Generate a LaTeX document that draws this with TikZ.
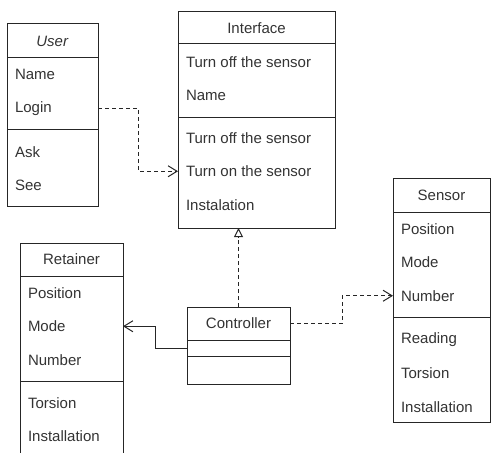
\documentclass[tikz,border=0pt]{standalone}
\usepackage{fontspec}
\setmainfont{Liberation Sans}
\usetikzlibrary{arrows.meta,positioning,calc}

\begin{document}
\begin{tikzpicture}[
  x=1pt, y=-1pt,
  font=\fontsize{15}{18}\selectfont,
  part/.style={draw=black!85, line width=1pt, outer sep=0pt, inner sep=0pt, anchor=north west, text=black!80},
  row/.style={anchor=north west, minimum height=33.5pt, inner sep=0pt, outer sep=0pt, text=black!80},
  link/.style={draw=black!85, line width=1pt},
  dep/.style={link, dash pattern=on 4pt off 3pt, -{Straight Barb[length=9pt,width=11pt]}},
  real/.style={link, dash pattern=on 4pt off 3pt, -{Triangle[open,length=9pt,width=9pt]}},
  assoc/.style={link, -{Straight Barb[length=9pt,width=11pt]}}
]
  \useasboundingbox (0,0) rectangle (492,452);

  % User
  \node[part, minimum width=91pt, minimum height=34pt] (user) at (7,24) {\textit{User}};
  \node[part, minimum width=91pt, minimum height=71pt, below=0pt of user] (user-attr) {};
  \node[part, minimum width=91pt, minimum height=77pt, below=0pt of user-attr] (user-ops) {};
  \foreach \t [count=\i] in {Name,Login}
    \node[row] (user-a\i) at ($(user-attr.north west)+(8,{33.5*(\i-1)})$) {\t};
  \foreach \t [count=\i] in {Ask,See}
    \node[row] (user-o\i) at ($(user-ops.north west)+(8,{6+33.5*(\i-1)})$) {\t};

  % Interface
  \node[part, minimum width=157pt, minimum height=32pt] (iface) at (178,12) {Interface};
  \node[part, minimum width=157pt, minimum height=73pt, below=0pt of iface] (iface-attr) {};
  \node[part, minimum width=157pt, minimum height=111pt, below=0pt of iface-attr] (iface-ops) {};
  \foreach \t [count=\i] in {Turn off the sensor,Name}
    \node[row] (iface-a\i) at ($(iface-attr.north west)+(8,{1+33.5*(\i-1)})$) {\t};
  \foreach \t [count=\i] in {Turn off the sensor,Turn on the sensor,Instalation}
    \node[row] (iface-o\i) at ($(iface-ops.north west)+(8,{4+33.5*(\i-1)})$) {\t};

  % Sensor
  \node[part, minimum width=97pt, minimum height=34pt] (sensor) at (393,178) {Sensor};
  \node[part, minimum width=97pt, minimum height=105pt, below=0pt of sensor] (sensor-attr) {};
  \node[part, minimum width=97pt, minimum height=105pt, below=0pt of sensor-attr] (sensor-ops) {};
  \foreach \t [count=\i] in {Position,Mode,Number}
    \node[row] (sensor-a\i) at ($(sensor-attr.north west)+(8,{33.5*(\i-1)})$) {\t};
  \foreach \t [count=\i] in {Reading,Torsion,Installation}
    \node[row] (sensor-o\i) at ($(sensor-ops.north west)+(8,{6+33.5*(\i-1)})$) {\t};

  % Retainer
  \node[part, minimum width=103pt, minimum height=33pt] (ret) at (20,243) {Retainer};
  \node[part, minimum width=103pt, minimum height=105pt, below=0pt of ret] (ret-attr) {};
  \node[part, minimum width=103pt, minimum height=80pt, below=0pt of ret-attr] (ret-ops) {};
  \foreach \t [count=\i] in {Position,Mode,Number}
    \node[row] (ret-a\i) at ($(ret-attr.north west)+(8,{33.5*(\i-1)})$) {\t};
  \foreach \t [count=\i] in {Torsion,Installation}
    \node[row] (ret-o\i) at ($(ret-ops.north west)+(8,{5+33.5*(\i-1)})$) {\t};

  % Controller
  \node[part, minimum width=103pt, minimum height=33pt] (ctrl) at (187,307) {Controller};
  \node[part, minimum width=103pt, minimum height=16pt, below=0pt of ctrl] (ctrl-attr) {};
  \node[part, minimum width=103pt, minimum height=28pt, below=0pt of ctrl-attr] (ctrl-ops) {};

  % relations
  \draw[dep] (user-a2 -| user-attr.east) -- ++(40,0) |- (iface-o2 -| iface-ops.west);
  \draw[real] (ctrl.north) -- (ctrl.north |- iface-ops.south);
  \draw[dep] (ctrl.east) -- ++(52,0) |- (sensor-a3 -| sensor-attr.west);
  \draw[assoc] (ctrl-attr.west) -- ++(-32,0) |- (ret-a2 -| ret-attr.east);
\end{tikzpicture}
\end{document}
